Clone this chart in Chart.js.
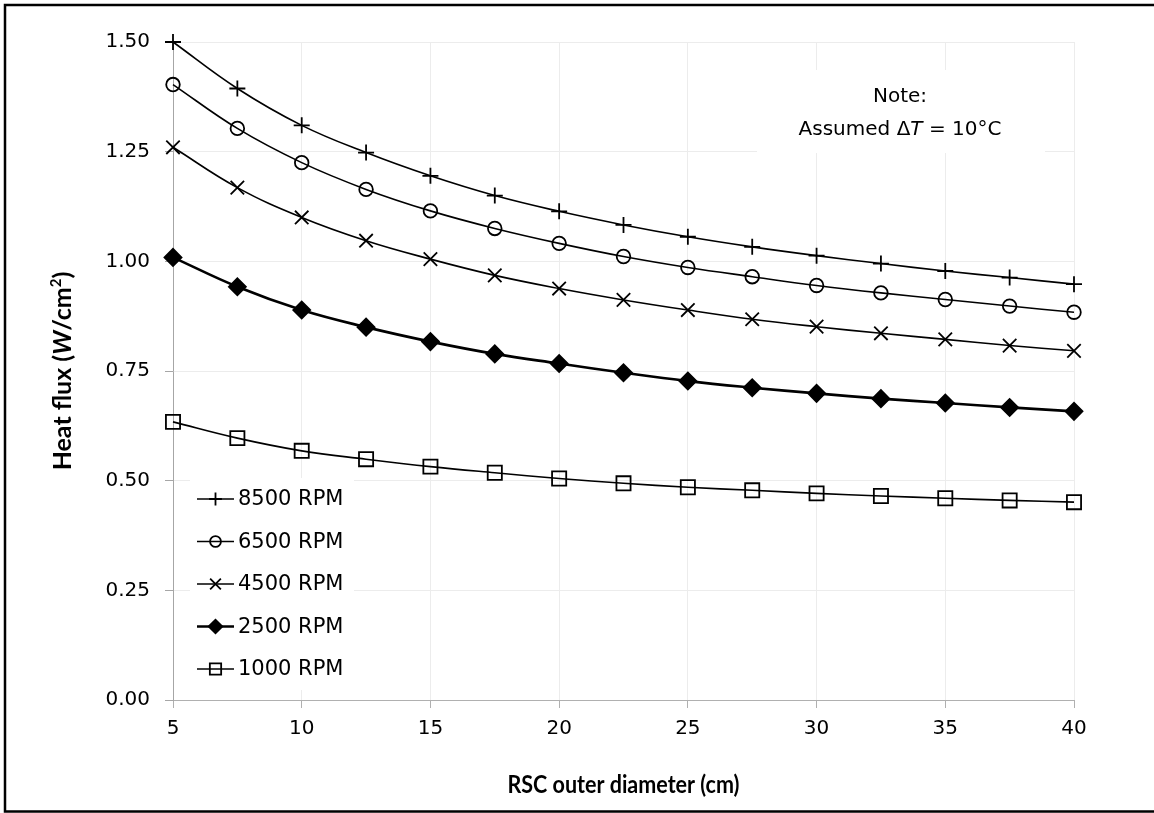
<!DOCTYPE html>
<html>
<head>
<meta charset="utf-8">
<script src="https://cdn.jsdelivr.net/npm/chart.js@4.4.1/dist/chart.umd.min.js"></script>
<style>
  body { margin: 0; background: #fff; }
  #fluxChart { display: block; }
</style>
</head>
<body>
<canvas id="fluxChart" width="1154" height="813"></canvas>
<script>
// outer diameter (cm) on x, heat flux (W/cm2) per rotation speed
const diameters = [5, 7.5, 10, 12.5, 15, 17.5, 20, 22.5, 25, 27.5, 30, 32.5, 35, 37.5, 40];
const rpm8500 = [1.500, 1.394, 1.310, 1.248, 1.195, 1.150, 1.114, 1.083, 1.056, 1.033, 1.013, 0.995, 0.978, 0.963, 0.948];
const rpm6500 = [1.403, 1.303, 1.225, 1.164, 1.115, 1.075, 1.041, 1.011, 0.986, 0.965, 0.945, 0.928, 0.913, 0.898, 0.884];
const rpm4500 = [1.260, 1.168, 1.100, 1.047, 1.005, 0.968, 0.938, 0.912, 0.889, 0.868, 0.851, 0.836, 0.822, 0.808, 0.796];
const rpm2500 = [1.009, 0.942, 0.889, 0.850, 0.817, 0.789, 0.767, 0.746, 0.727, 0.712, 0.699, 0.687, 0.677, 0.667, 0.658];
const rpm1000 = [0.634, 0.597, 0.568, 0.549, 0.532, 0.518, 0.505, 0.494, 0.485, 0.478, 0.471, 0.465, 0.460, 0.455, 0.451];
const seriesNames = ['8500 RPM', '6500 RPM', '4500 RPM', '2500 RPM', '1000 RPM'];
const xTicks = [5, 10, 15, 20, 25, 30, 35, 40];
const yTicks = [0, 0.25, 0.5, 0.75, 1.0, 1.25, 1.5];

// marker look per series
const markers = [
  { style: 'cross',    radius: 8,   fill: 'rgba(0,0,0,0)', line: 1.6 },
  { style: 'circle',   radius: 6.8, fill: 'rgba(0,0,0,0)', line: 1.6 },
  { style: 'crossRot', radius: 9.5, fill: 'rgba(0,0,0,0)', line: 1.6 },
  { style: 'rectRot',  radius: 8.5, fill: '#000',          line: 2.6 },
  { style: 'rect',     radius: 10,  fill: 'rgba(0,0,0,0)', line: 1.6 }
];
const allSeries = [rpm8500, rpm6500, rpm4500, rpm2500, rpm1000];

const TXT = 'DejaVu Sans';
const TITLE = 'Lato';

function drawRuns(ctx, runs, cx, y) {
  let total = 0;
  runs.forEach(r => { ctx.font = r.font; r.w = ctx.measureText(r.text).width; total += r.w; });
  let x = cx - total / 2;
  ctx.textAlign = 'left';
  ctx.textBaseline = 'alphabetic';
  runs.forEach(r => { ctx.font = r.font; ctx.fillText(r.text, x, y + (r.dy || 0)); x += r.w; });
}

const decorations = {
  id: 'decorations',
  beforeDatasetsDraw(chart) {
    const ctx = chart.ctx;
    ctx.save();
    // legend box
    ctx.fillStyle = '#fff';
    ctx.fillRect(190, 478, 164, 212);
    // note box
    ctx.fillRect(757, 70, 288, 83);

    ctx.strokeStyle = '#000';
    chart.data.datasets.forEach((ds, i) => {
      const y = 499 + i * 42.5;
      ctx.lineWidth = ds.borderWidth;
      ctx.beginPath();
      ctx.moveTo(197, y);
      ctx.lineTo(234, y);
      ctx.stroke();
      ctx.fillStyle = ds.pointBackgroundColor;
      ctx.lineWidth = ds.pointBorderWidth;
      Chart.helpers.drawPoint(ctx, {
        pointStyle: ds.pointStyle, radius: ds.pointRadius * 0.8, rotation: 0, borderWidth: ds.pointBorderWidth
      }, 215.5, y);
      ctx.fillStyle = '#000';
      ctx.font = '21px "' + TXT + '"';
      ctx.textAlign = 'left';
      ctx.textBaseline = 'middle';
      ctx.fillText(ds.label, 238, y + 1);
    });

    // note text
    drawRuns(ctx, [{ text: 'Note:', font: '20px "' + TXT + '"' }], 900, 102);
    drawRuns(ctx, [
      { text: 'Assumed \u0394', font: '20px "' + TXT + '"' },
      { text: 'T', font: 'italic 20px "' + TXT + '"' },
      { text: ' = 10\u00B0C', font: '20px "' + TXT + '"' }
    ], 900, 135);
    ctx.restore();
  },
  afterDraw(chart) {
    const ctx = chart.ctx;
    // x axis title, slightly narrowed
    ctx.save();
    ctx.fillStyle = '#000';
    ctx.font = 'bold 24px "' + TITLE + '"';
    const xt = 'RSC outer diameter (cm)';
    const k = Math.min(1, 232 / ctx.measureText(xt).width);
    ctx.translate(623.5, 793);
    ctx.scale(k, 1);
    drawRuns(ctx, [{ text: xt, font: 'bold 24px "' + TITLE + '"' }], 0, 0);
    ctx.restore();

    // y axis title
    ctx.save();
    ctx.fillStyle = '#000';
    ctx.translate(71, 371);
    ctx.rotate(-Math.PI / 2);
    drawRuns(ctx, [
      { text: 'Heat flux (', font: 'bold 25px "' + TITLE + '"' },
      { text: 'W', font: 'bold italic 25px "' + TITLE + '"' },
      { text: '/cm', font: 'bold 25px "' + TITLE + '"' },
      { text: '2', font: 'bold 15px "' + TITLE + '"', dy: -10 },
      { text: ')', font: 'bold 25px "' + TITLE + '"' }
    ], 0, 0);
    ctx.restore();

    // frame
    ctx.save();
    ctx.strokeStyle = '#000';
    ctx.lineWidth = 2.5;
    ctx.beginPath();
    ctx.moveTo(1154, 5);
    ctx.lineTo(5, 5);
    ctx.lineTo(5, 811.5);
    ctx.lineTo(1154, 811.5);
    ctx.stroke();
    ctx.restore();
  }
};

const datasets = allSeries.map((vals, i) => ({
  label: seriesNames[i],
  data: vals.map((v, j) => ({ x: diameters[j], y: v })),
  borderColor: '#000',
  borderWidth: markers[i].line,
  pointStyle: markers[i].style,
  pointRadius: markers[i].radius,
  pointBorderWidth: 1.8,
  pointBorderColor: '#000',
  pointBackgroundColor: markers[i].fill,
  tension: 0.4,
  clip: false,
  fill: false
}));

const ctx = document.getElementById('fluxChart');
new Chart(ctx, {
  type: 'line',
  data: { datasets: datasets },
  options: {
    responsive: false,
    animation: false,
    layout: { padding: { top: 42, right: 80, left: 0, bottom: 0 } },
    plugins: { legend: { display: false }, tooltip: { enabled: false } },
    scales: {
      x: {
        type: 'linear',
        min: 5,
        max: 40,
        afterBuildTicks: s => { s.ticks = xTicks.map(v => ({ value: v })); },
        afterFit: s => { s.height = 113; },
        grid: { color: '#ececec', tickColor: '#b0b0b0', tickLength: 8, lineWidth: 1 },
        border: { color: '#b0b0b0', width: 1 },
        ticks: { color: '#000', font: { family: TXT, size: 20 }, padding: 9, maxRotation: 0 }
      },
      y: {
        min: 0,
        max: 1.5,
        afterBuildTicks: s => { s.ticks = yTicks.map(v => ({ value: v })); },
        afterFit: s => { s.width = 173; },
        grid: { color: '#ececec', tickColor: '#a6a6a6', tickLength: 8, lineWidth: 1 },
        border: { color: '#a6a6a6', width: 1 },
        ticks: { color: '#000', font: { family: TXT, size: 20 }, padding: 15, callback: v => v.toFixed(2) }
      }
    }
  },
  plugins: [decorations]
});
</script>
</body>
</html>
